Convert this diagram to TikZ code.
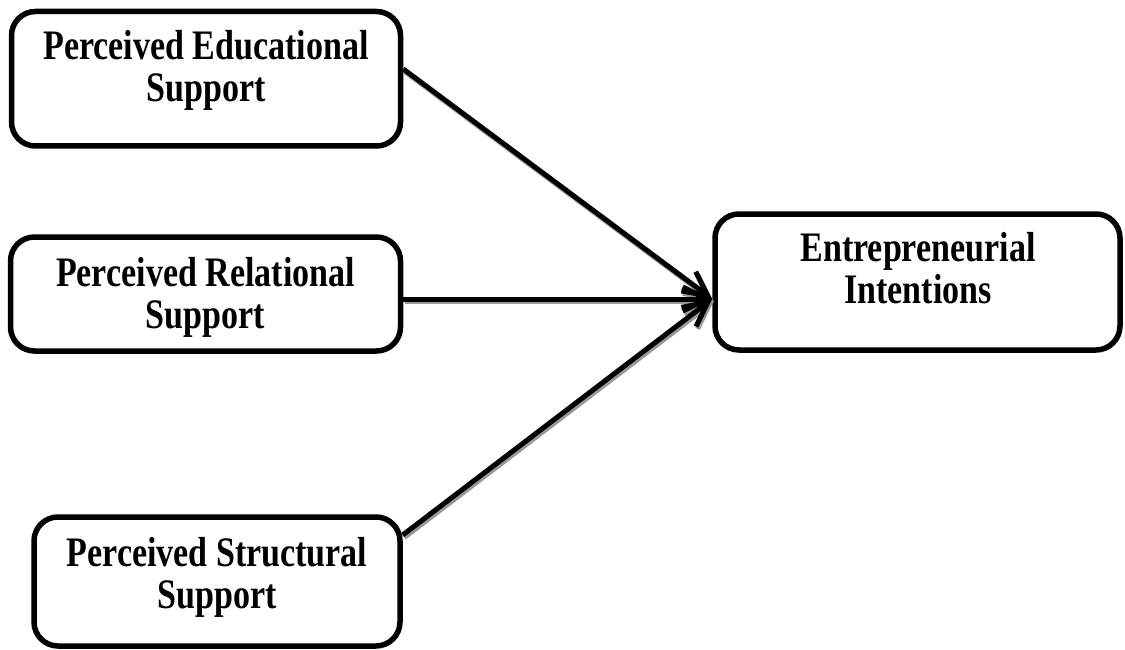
\documentclass[tikz,border=0pt]{standalone}
\usepackage{fontspec}
\setmainfont{Liberation Serif}[FakeStretch=0.81]
\usetikzlibrary{arrows.meta,calc}
\tikzset{
  box/.style={draw=black, line width=5.5pt, rounded corners=24pt, fill=white, inner sep=0pt},
  lbl/.style={align=center, inner sep=0pt, anchor=north, font=\fontsize{42pt}{42pt}\selectfont\bfseries},
  conn/.style={line width=5pt, -{Straight Barb[length=24pt,width=24pt,line width=5pt]}},
  shadowconn/.style={conn, draw=black!40, transform canvas={xshift=1.5pt,yshift=-2.5pt}},
}
\begin{document}
\begin{tikzpicture}[x=1pt,y=-1pt]
\useasboundingbox (0,0) rectangle (1125,650);
% boxes
\node[box, minimum width=389pt, minimum height=134.5pt] (edu) at (206,78.75) {};
\node[box, minimum width=390pt, minimum height=114pt] (rel) at (205.5,294) {};
\node[box, minimum width=366pt, minimum height=129pt] (str) at (217,581.5) {};
\node[box, minimum width=405pt, minimum height=136pt] (ent) at (917.5,282) {};
% labels
\node[lbl] (edut) at (206,30) {Perceived Educational\\Support};
\node[lbl] (relt) at (205.5,257) {Perceived Relational\\Support};
\node[lbl] (strt) at (217,537) {Perceived Structural\\Support};
\node[lbl] (entt) at (918,232) {Entrepreneurial\\Intentions};
% connector end points
\coordinate (s1) at ([yshift=9.75pt]edu.east);
\coordinate (s2) at ([yshift=-5pt]rel.east);
\coordinate (s3) at ([yshift=46.5pt]str.east);
\coordinate (t) at ([yshift=-17pt]ent.west);
% shadows
\draw[shadowconn] (s1) -- (t);
\draw[shadowconn] (s2) -- (t);
\draw[shadowconn] (s3) -- (t);
% connectors
\draw[conn] (s1) -- (t);
\draw[conn] (s2) -- (t);
\draw[conn] (s3) -- (t);
\end{tikzpicture}
\end{document}
